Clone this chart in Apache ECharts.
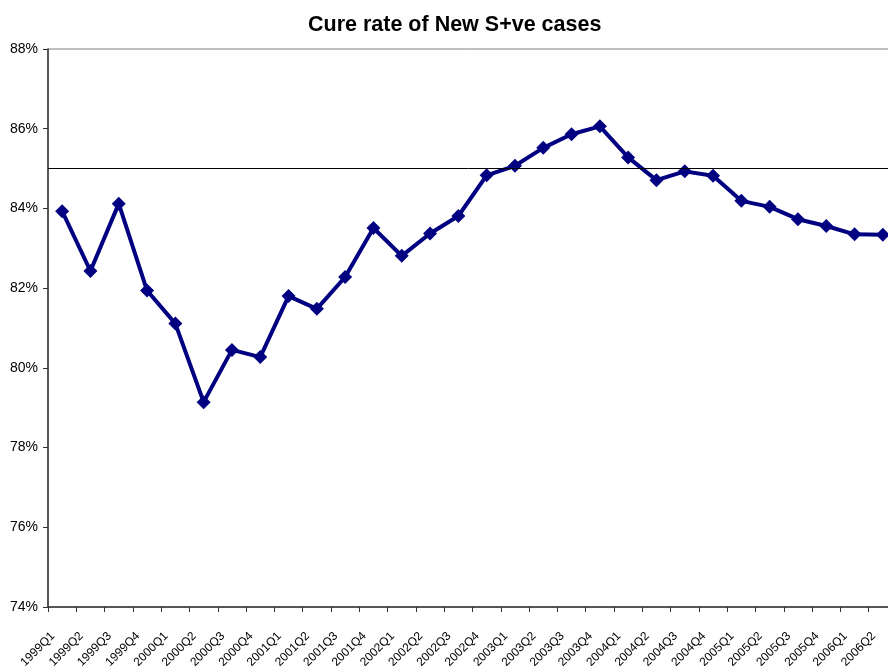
<!DOCTYPE html>
<html>
<head>
<meta charset="utf-8">
<script src="https://cdn.jsdelivr.net/npm/echarts@6/dist/echarts.min.js"></script>
<style>html,body{margin:0;padding:0;background:#fff}#c{width:888px;height:666px}</style>
</head>
<body>
<div id="c"></div>
<script>
var categories = ['1999Q1','1999Q2','1999Q3','1999Q4','2000Q1','2000Q2','2000Q3','2000Q4',
  '2001Q1','2001Q2','2001Q3','2001Q4','2002Q1','2002Q2','2002Q3','2002Q4',
  '2003Q1','2003Q2','2003Q3','2003Q4','2004Q1','2004Q2','2004Q3','2004Q4',
  '2005Q1','2005Q2','2005Q3','2005Q4','2006Q1','2006Q2'];
var cureRate = [83.93,82.43,84.12,81.94,81.11,79.14,80.45,80.27,
  81.80,81.48,82.28,83.51,82.81,83.37,83.81,84.83,
  85.07,85.52,85.86,86.06,85.28,84.71,84.93,84.82,
  84.19,84.04,83.73,83.56,83.35,83.34];
var targetRate = 85;
var yMin = 74, yMax = 88, yStep = 2;

var chart = echarts.init(document.getElementById('c'), null, {renderer:'canvas'});
chart.setOption({
  animation: false,
  backgroundColor: '#ffffff',
  title: {
    text: 'Cure rate of New S+ve cases',
    left: 303, top: 9,
    textStyle: {fontFamily: 'Liberation Sans, Arial, sans-serif', fontSize: 21.5, fontWeight: 'bold', color: '#000'}
  },
  grid: {left: 48, top: 49, bottom: 59, width: 849, show: true, borderColor: '#808080', borderWidth: 1,
    containLabel: false, outerBoundsMode: 'none'},
  xAxis: {
    type: 'category',
    data: categories,
    boundaryGap: true,
    axisLine: {lineStyle: {color: '#333', width: 1.5}},
    axisTick: {show: true, length: 5, alignWithLabel: false, lineStyle: {color: '#333'}},
    axisLabel: {rotate: 45, interval: 0, margin: 18, padding: [0, 13, 0, 0],
      fontFamily: 'Liberation Sans, Arial, sans-serif', fontSize: 12, color: '#000'},
    splitLine: {show: false}
  },
  yAxis: {
    type: 'value',
    min: yMin, max: yMax, interval: yStep,
    axisLine: {show: true, lineStyle: {color: '#333', width: 1.5}},
    axisTick: {show: true, length: 5, lineStyle: {color: '#333'}},
    axisLabel: {formatter: '{value}%', margin: 10, fontFamily: 'Liberation Sans, Arial, sans-serif', fontSize: 14, color: '#000'},
    splitLine: {show: false}
  },
  series: [
    {
      type: 'line', data: [], z: 1, silent: true,
      markLine: {
        silent: true, symbol: ['none','none'], label: {show: false},
        lineStyle: {color: '#000', width: 1, type: 'solid'},
        data: [{yAxis: targetRate}]
      }
    },
    {
      type: 'line', data: cureRate, z: 3,
      symbol: 'diamond', symbolSize: 14,
      lineStyle: {color: '#000080', width: 4},
      itemStyle: {color: '#000080'}
    }
  ]
});
</script>
</body>
</html>
